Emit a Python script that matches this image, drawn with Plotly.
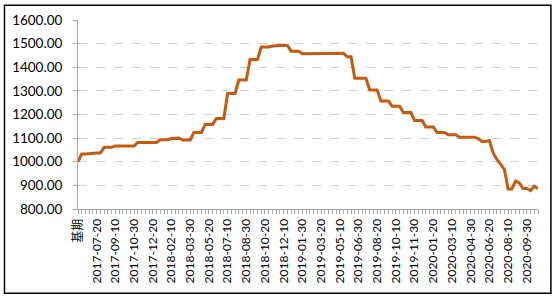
import plotly.graph_objects as go

tick_labels = ["基期", "2017-07-20", "2017-09-10", "2017-10-30", "2017-12-20", "2018-02-10",
               "2018-03-30", "2018-05-20", "2018-07-10", "2018-08-30", "2018-10-20",
               "2018-12-10", "2019-01-30", "2019-03-20", "2019-05-10", "2019-06-30",
               "2019-08-20", "2019-10-10", "2019-11-30", "2020-01-20", "2020-03-10",
               "2020-04-30", "2020-06-20", "2020-08-10", "2020-09-30"]
tick_positions = list(range(0, 121, 5))

values = [
    1000, 1033, 1033, 1035, 1037, 1037, 1037, 1061, 1061, 1061,
    1067, 1067, 1067, 1067, 1067, 1067, 1082, 1082, 1082, 1082,
    1082, 1082, 1093, 1093, 1093, 1098, 1100, 1100, 1092, 1092,
    1092, 1124, 1124, 1124, 1158, 1158, 1158, 1183, 1183, 1183,
    1289, 1289, 1289, 1346, 1346, 1346, 1433, 1433, 1433, 1486,
    1486, 1486, 1490, 1492, 1492, 1492, 1492, 1468, 1468, 1468,
    1457, 1457, 1457, 1459, 1459, 1460, 1460, 1460, 1460, 1459,
    1459, 1459, 1444, 1444, 1353, 1353, 1353, 1353, 1304, 1304,
    1304, 1257, 1257, 1257, 1235, 1235, 1235, 1208, 1208, 1208,
    1175, 1175, 1175, 1147, 1147, 1147, 1124, 1124, 1124, 1114,
    1114, 1114, 1104, 1104, 1104, 1104, 1104, 1098, 1086, 1086,
    1090, 1037, 1010, 990, 968, 885, 885, 918, 910, 887,
    887, 878, 896, 886,
]
x_index = list(range(len(values)))

fig = go.Figure()
fig.add_trace(go.Scatter(
    x=x_index, y=values, mode="lines",
    line=dict(color="#C55A11", width=3),
    hoverinfo="skip", showlegend=False,
))

font_family = "Lato, 'Noto Sans CJK SC', sans-serif"

fig.update_layout(
    width=554, height=297,
    margin=dict(l=75, r=16, t=16, b=88),
    paper_bgcolor="white", plot_bgcolor="white",
    font=dict(family=font_family, color="#000000"),
    xaxis=dict(
        range=[0, len(values) - 1],
        tickmode="array", tickvals=tick_positions, ticktext=tick_labels,
        tickangle=-90, tickfont=dict(size=12, family=font_family),
        showgrid=False, zeroline=False,
        showline=True, linecolor="#A6A6A6", linewidth=1,
        ticks="outside", ticklen=4, tickcolor="#A6A6A6",
        minor=dict(dtick=1, tick0=0, ticks="outside", ticklen=4, tickcolor="#A6A6A6"),
    ),
    yaxis=dict(
        range=[800, 1600], dtick=100, tickformat=".2f",
        tickfont=dict(size=13.5, family=font_family),
        ticklabelstandoff=8,
        showgrid=True, gridcolor="#D0D0D0", griddash="dash", gridwidth=1,
        zeroline=False,
        showline=True, linecolor="#A6A6A6", linewidth=1,
        ticks="outside", ticklen=4, tickcolor="#A6A6A6",
    ),
    shapes=[dict(
        type="rect", xref="paper", yref="paper",
        x0=(1 - 75) / 463, x1=(551 - 75) / 463,
        y0=(209 - 295) / 193, y1=(209 - 1) / 193,
        line=dict(color="black", width=1.5), fillcolor="rgba(0,0,0,0)",
    )],
)

fig.write_html("out.html", config={"displayModeBar": False},
               post_script="document.body.style.margin='0';document.body.style.padding='0';")
